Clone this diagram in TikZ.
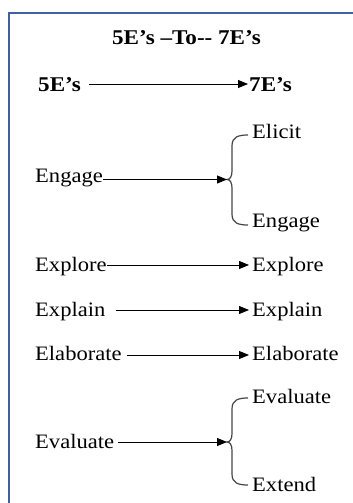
\documentclass[tikz,border=0pt]{standalone}
\usepackage{fontspec}
\setmainfont{Liberation Serif}[FakeStretch=1.1]
\usetikzlibrary{arrows.meta,calc}
\definecolor{frameblue}{RGB}{66,96,160}
\definecolor{bracegray}{RGB}{70,70,70}
\begin{document}
\begin{tikzpicture}[x=1pt,y=-1pt,
  lbl/.style={anchor=base west,inner sep=0pt,font=\fontsize{20.5}{24}\selectfont},
  ttl/.style={inner sep=0pt,font=\fontsize{21}{25}\selectfont\bfseries},
  conn/.style={line width=0.9pt,-{Triangle[length=10pt,width=8pt]}},
  bracep/.style={line width=1.2pt,bracegray}]
\useasboundingbox (0,0) rectangle (353,503);
\fill[white] (0,0) rectangle (353,503);
\draw[frameblue,line width=2.4pt] (8.7,503) -- (8.7,12.8) -- (353,12.8);

% title
\node[ttl,anchor=base] (title) at (186.5,45) {5E’s –To-{}- 7E’s};
\node[ttl,anchor=base west] (h5) at (38,92) {5E’s};
\node[ttl,anchor=base west] (h7) at (249,92) {7E’s};
\draw[conn] ([xshift=8pt,yshift=8pt]h5.base east) -- ([xshift=-1pt,yshift=8pt]h7.base west);

% Engage
\node[lbl] (en) at (35,182) {Engage};
\node[lbl] (el) at (252,138) {Elicit};
\node[lbl] (en2) at (252,227) {Engage};
\coordinate (b1) at (227,179.5);
\draw[bracep] (248,135) .. controls (238,135) and (232,137) .. (232,146) -- (232,171)
  .. controls (232,176.5) and (230,179.5) .. (b1)
  .. controls (230,179.5) and (232,182.5) .. (232,188) -- (232,214)
  .. controls (232,223) and (238,225) .. (248,225);
\draw[conn] ([yshift=2.5pt]en.base east) -- (b1);

% Explore
\node[lbl] (ex) at (35,271) {Explore};
\node[lbl] (ex2) at (252,271) {Explore};
\draw[conn] ([yshift=6pt]ex.base east) -- ([xshift=-3pt,yshift=6pt]ex2.base west);

% Explain
\node[lbl] (ep) at (35,316) {Explain};
\node[lbl] (ep2) at (252,316) {Explain};
\draw[conn] ([xshift=10pt,yshift=6pt]ep.base east) -- ([xshift=-3pt,yshift=6pt]ep2.base west);

% Elaborate
\node[lbl] (eb) at (35,360) {Elaborate};
\node[lbl] (eb2) at (252,360) {Elaborate};
\draw[conn] ([xshift=5pt,yshift=5pt]eb.base east) -- ([xshift=-3pt,yshift=5pt]eb2.base west);

% Evaluate
\node[lbl] (ev) at (35,448) {Evaluate};
\node[lbl] (ev2) at (252,403) {Evaluate};
\node[lbl] (et) at (252,491) {Extend};
\coordinate (b2) at (227,442);
\draw[bracep] (248,398) .. controls (238,398) and (232,400) .. (232,409) -- (232,433.5)
  .. controls (232,439) and (230,442) .. (b2)
  .. controls (230,442) and (232,445) .. (232,450.5) -- (232,474)
  .. controls (232,483) and (238,485) .. (248,485);
\draw[conn] ([xshift=4pt,yshift=6pt]ev.base east) -- (b2);
\end{tikzpicture}
\end{document}
